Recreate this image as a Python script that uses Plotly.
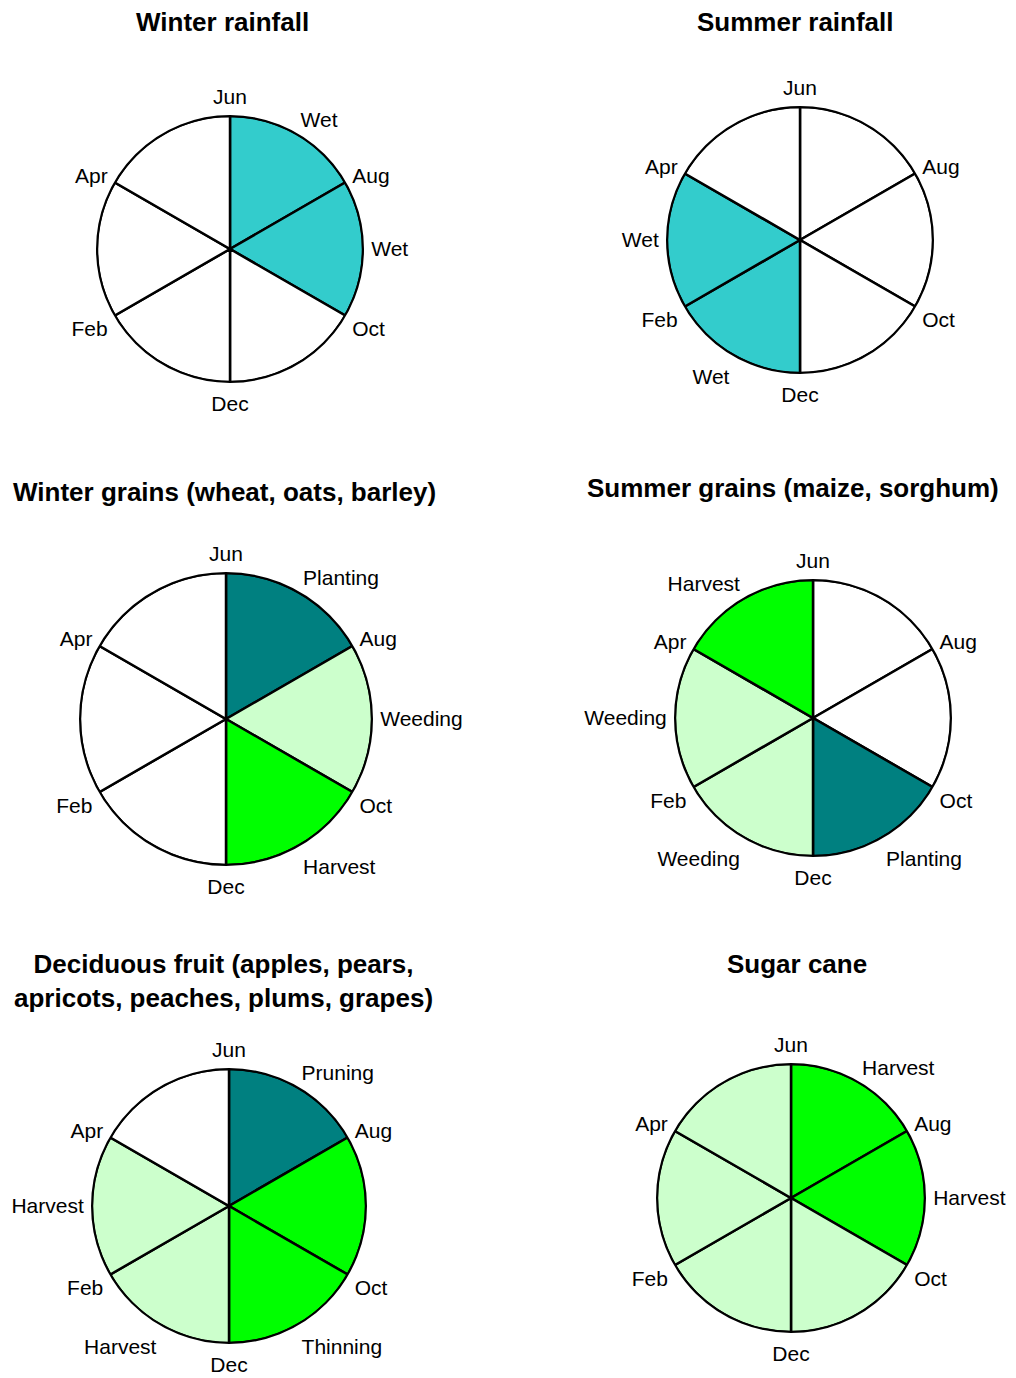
import plotly.graph_objects as go

# ---------------- data ----------------
boundary_months = ["Jun", "Aug", "Oct", "Dec", "Feb", "Apr"]  # clockwise from top
sector_size = [1, 1, 1, 1, 1, 1]                                 # six 2-month sectors

titles = [
    "Winter rainfall",
    "Summer rainfall",
    "Winter grains (wheat, oats, barley)",
    "Summer grains (maize, sorghum)",
    "Deciduous fruit (apples, pears,<br>apricots, peaches, plums, grapes)",
    "Sugar cane",
]

# sector fills (Jun-Aug, Aug-Oct, Oct-Dec, Dec-Feb, Feb-Apr, Apr-Jun)
winter_rain_fill = ["wet", "wet", "none", "none", "none", "none"]
summer_rain_fill = ["none", "none", "none", "wet", "wet", "none"]
winter_grain_fill = ["teal", "light", "green", "none", "none", "none"]
summer_grain_fill = ["none", "none", "teal", "light", "light", "green"]
decid_fill = ["teal", "green", "green", "light", "light", "none"]
sugar_fill = ["green", "green", "light", "light", "light", "light"]

winter_rain_labels = ["Wet", "Wet", "", "", "", ""]
summer_rain_labels = ["", "", "", "Wet", "Wet", ""]
winter_grain_labels = ["Planting", "Weeding", "Harvest", "", "", ""]
summer_grain_labels = ["", "", "Planting", "Weeding", "Weeding", "Harvest"]
decid_labels = ["Pruning", "", "Thinning", "Harvest", "Harvest", ""]
sugar_labels = ["Harvest", "Harvest", "", "", "", ""]

fills = [winter_rain_fill, summer_rain_fill, winter_grain_fill,
         summer_grain_fill, decid_fill, sugar_fill]
labels = [winter_rain_labels, summer_rain_labels, winter_grain_labels,
          summer_grain_labels, decid_labels, sugar_labels]

palette = {"wet": "#33CCCC", "teal": "#008080", "green": "#00FF00",
           "light": "#CCFFCC", "none": "#FFFFFF"}

# ---------------- layout geometry (pixels) ----------------
W, H = 1016, 1378
OFF = 8  # page body margin
centers = [(230, 249, 133), (800, 240, 133), (226, 719, 146),
           (813, 718, 138), (229, 1206, 137), (791, 1198, 134)]
title_pos = [(222, 22), (795, 22), (224, 492), (793, 488), (223, 981), (797, 964)]

FONT = "Liberation Sans, Arial, sans-serif"


def px(x):
    return (x - OFF) / W


def py(y):
    return 1 - (y - OFF) / H


fig = go.Figure()
n = len(boundary_months)
step = 360 / n
for k in range(6):
    pid = "polar" if k == 0 else f"polar{k+1}"
    theta = [i * step + step / 2 for i in range(n)]
    fig.add_trace(go.Barpolar(
        r=sector_size,
        theta=theta,
        width=[step] * n,
        marker=dict(color=[palette[f] for f in fills[k]],
                    line=dict(color="black", width=2.5)),
        subplot=pid,
        showlegend=False,
        hoverinfo="skip",
    ))
    # tick labels: months at boundaries, activities at sector centres
    tv, tt = [], []
    for i in range(n):
        tv.append(i * step)
        tt.append(boundary_months[i])
        if labels[k][i]:
            tv.append(i * step + step / 2)
            tt.append(labels[k][i])
    cx, cy, r = centers[k]
    fig.update_layout(**{pid: dict(
        domain=dict(x=[px(cx - r), px(cx + r)],
                    y=[py(cy + r), py(cy - r)]),
        bgcolor="white",
        hole=0,
        radialaxis=dict(visible=False, range=[0, 1]),
        angularaxis=dict(
            direction="clockwise", rotation=90, thetaunit="degrees",
            tickmode="array", tickvals=tv, ticktext=tt,
            showgrid=False, showline=True, linecolor="black", linewidth=2,
            ticks="outside", ticklen=3, tickcolor="rgba(0,0,0,0)",
            tickfont=dict(family=FONT, size=21, color="black"),
        ),
    )})
    tx, ty = title_pos[k]
    fig.add_annotation(x=px(tx), y=py(ty), xref="paper", yref="paper",
                       text="<b>" + titles[k] + "</b>", showarrow=False,
                       xanchor="center", yanchor="middle",
                       font=dict(family=FONT, size=26, color="black"))

fig.update_layout(width=W, height=H, margin=dict(l=0, r=0, t=0, b=0),
                  paper_bgcolor="white", plot_bgcolor="white")
fig.write_html("out.html")
